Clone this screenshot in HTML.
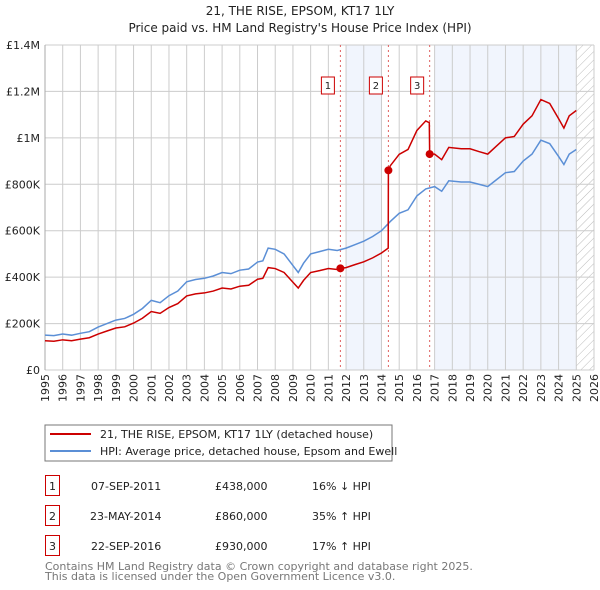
<!DOCTYPE html>
<html><head><meta charset="utf-8"><style>
body{margin:0;background:#fff;font-family:"DejaVu Sans","Liberation Sans",sans-serif;}
#wrap{position:relative;width:600px;height:590px;overflow:hidden;}
</style></head><body><div id="wrap">
<svg id="chart" width="600" height="590" xmlns="http://www.w3.org/2000/svg" font-family="DejaVu Sans, Liberation Sans, sans-serif">
<defs><pattern id="hatch" width="6" height="6" patternUnits="userSpaceOnUse" patternTransform="rotate(45)"><line x1="0" y1="0" x2="0" y2="6" stroke="#bbb" stroke-width="1"/></pattern></defs>
<text x="300" y="15" text-anchor="middle" font-size="12" fill="#222">21, THE RISE, EPSOM, KT17 1LY</text>
<text x="300" y="32" text-anchor="middle" font-size="12" fill="#222">Price paid vs. HM Land Registry's House Price Index (HPI)</text>
<g id="plot"></g>
<g>
<rect x="45" y="425" width="347" height="36" fill="#fff" stroke="#777"/>
<line x1="50" y1="434" x2="91" y2="434" stroke="#cc0000" stroke-width="2"/>
<text x="100" y="438" font-size="11" fill="#222">21, THE RISE, EPSOM, KT17 1LY (detached house)</text>
<line x1="50" y1="451" x2="91" y2="451" stroke="#5b8fd6" stroke-width="2"/>
<text x="100" y="455" font-size="11" fill="#222">HPI: Average price, detached house, Epsom and Ewell</text>
</g>
<g font-size="11" fill="#222">
<rect x="45.5" y="475.5" width="14" height="20" fill="none" stroke="#cc0000"/><text x="52.5" y="490" text-anchor="middle">1</text>
<text x="91" y="490">07-SEP-2011</text><text x="215" y="490">£438,000</text><text x="312" y="490">16% ↓ HPI</text>
<rect x="45.5" y="505.5" width="14" height="20" fill="none" stroke="#cc0000"/><text x="52.5" y="520" text-anchor="middle">2</text>
<text x="90" y="520">23-MAY-2014</text><text x="215" y="520">£860,000</text><text x="312" y="520">35% ↑ HPI</text>
<rect x="45.5" y="535.5" width="14" height="20" fill="none" stroke="#cc0000"/><text x="52.5" y="550" text-anchor="middle">3</text>
<text x="91" y="550">22-SEP-2016</text><text x="215" y="550">£930,000</text><text x="312" y="550">17% ↑ HPI</text>
</g>
<text x="45" y="570" font-size="11" fill="#777">Contains HM Land Registry data © Crown copyright and database right 2025.</text>
<text x="45" y="580" font-size="11" fill="#777">This data is licensed under the Open Government Licence v3.0.</text>
</svg></div>
<script>
const yTicks=[0,200000,400000,600000,800000,1000000,1200000,1400000];
const yTickLabels=["£0","£200K","£400K","£600K","£800K","£1M","£1.2M","£1.4M"];
const years=[1995,1996,1997,1998,1999,2000,2001,2002,2003,2004,2005,2006,2007,2008,2009,2010,2011,2012,2013,2014,2015,2016,2017,2018,2019,2020,2021,2022,2023,2024,2025,2026];
const hpiDates=[1995,1995.5,1996,1996.5,1997,1997.5,1998,1998.5,1999,1999.5,2000,2000.5,2001,2001.5,2002,2002.5,2003,2003.5,2004,2004.5,2005,2005.5,2006,2006.5,2007,2007.3,2007.6,2008,2008.5,2009,2009.3,2009.6,2010,2010.5,2011,2011.5,2012,2012.5,2013,2013.5,2014,2014.5,2015,2015.5,2016,2016.5,2017,2017.4,2017.8,2018.5,2019,2019.5,2020,2020.5,2021,2021.5,2022,2022.5,2023,2023.5,2024,2024.3,2024.6,2025];
const hpiValues=[150,148,155,150,158,165,185,200,215,222,240,265,300,290,320,340,380,390,395,405,420,415,430,435,465,470,525,520,500,450,420,460,500,510,520,515,525,540,555,575,600,640,675,690,750,780,790,770,815,810,810,800,790,820,850,855,900,930,990,975,920,885,930,950];
const priceDates=[1995,1995.5,1996,1996.5,1997,1997.5,1998,1998.5,1999,1999.5,2000,2000.5,2001,2001.5,2002,2002.5,2003,2003.5,2004,2004.5,2005,2005.5,2006,2006.5,2007,2007.3,2007.6,2008,2008.5,2009,2009.3,2009.6,2010,2010.5,2011,2011.5,2011.68,2012,2012.5,2013,2013.5,2014,2014.38,2014.39,2014.5,2015,2015.5,2016,2016.5,2016.7,2016.72,2017,2017.4,2017.8,2018.5,2019,2019.5,2020,2020.5,2021,2021.5,2022,2022.5,2023,2023.5,2024,2024.3,2024.6,2025];
const priceValues=[126,124,130,126,133,139,155,168,181,186,202,223,252,244,269,286,319,328,332,340,353,349,361,365,391,395,441,437,420,378,353,386,420,428,437,433,438,441,454,466,483,504,525,860,880,929,950,1032,1073,1065,930,930,906,959,953,953,941,930,965,1000,1006,1059,1095,1165,1148,1083,1042,1095,1118];
const saleDates=[2011.68,2014.39,2016.72];
const salePrices=[438000,860000,930000];
const saleLabels=["1","2","3"];
const shadeStarts=[2012,2017];
const shadeEnds=[2014,2025];

const X0=45,X1=594,Y0=370,Y1=45,XMIN=1995,XMAX=2026,YMAX=1400000;
const xs=v=>X0+(v-XMIN)/(XMAX-XMIN)*(X1-X0);
const ys=v=>Y0-v/YMAX*(Y0-Y1);
const NS="http://www.w3.org/2000/svg";
const plot=document.getElementById('plot');
function mk(tag,attrs,parent){const e=document.createElementNS(NS,tag);for(const k in attrs)e.setAttribute(k,attrs[k]);(parent||plot).appendChild(e);return e;}

shadeStarts.forEach((s,i)=>{const r=mk('rect',{x:xs(s),y:Y1,width:xs(shadeEnds[i])-xs(s),height:Y0-Y1,fill:'#eef3fc',opacity:0.8});

});
const h=mk('rect',{x:xs(2025),y:Y1,width:X1-xs(2025),height:Y0-Y1,fill:'url(#hatch)'});


years.forEach(y=>{const l=mk('line',{x1:xs(y),x2:xs(y),y1:Y1,y2:Y0,stroke:'#ccc','stroke-width':1});


const t=mk('text',{x:0,y:0,'font-size':11,fill:'#222','text-anchor':'end',transform:`translate(${xs(y)+4},${Y0+4}) rotate(-90)`});
t.textContent=y;

});
yTicks.forEach((v,i)=>{const l=mk('line',{x1:X0,x2:X1,y1:ys(v),y2:ys(v),stroke:'#ccc','stroke-width':1});


const t=mk('text',{x:X0-5,y:ys(v)+4,'font-size':11,fill:'#222','text-anchor':'end'});
t.textContent=yTickLabels[i];

});
const ax=mk('line',{x1:X0,x2:X0,y1:Y1,y2:Y0,stroke:'#aaa'});


saleDates.forEach((d,i)=>{const l=mk('line',{x1:xs(d),x2:xs(d),y1:Y1,y2:Y0,stroke:'#e06060','stroke-dasharray':'2,3','stroke-width':1});


const r=mk('rect',{x:xs(d)-19,y:77,width:13,height:17,fill:'#fff',stroke:'#cc0000'});


const t=mk('text',{x:xs(d)-12.5,y:89,'font-size':10,fill:'#222','text-anchor':'middle'});
t.textContent=saleLabels[i];

});
const hp=mk('polyline',{points:hpiDates.map((d,i)=>xs(d)+','+ys(hpiValues[i]*1000)).join(' '),fill:'none',stroke:'#5b8fd6','stroke-width':1.5});


const pp=mk('polyline',{points:priceDates.map((d,i)=>xs(d)+','+ys(priceValues[i]*1000)).join(' '),fill:'none',stroke:'#cc0000','stroke-width':1.5});


saleDates.forEach((d,i)=>{const c=mk('circle',{cx:xs(d),cy:ys(salePrices[i]),r:4,fill:'#cc0000'});

});
</script></body></html>
